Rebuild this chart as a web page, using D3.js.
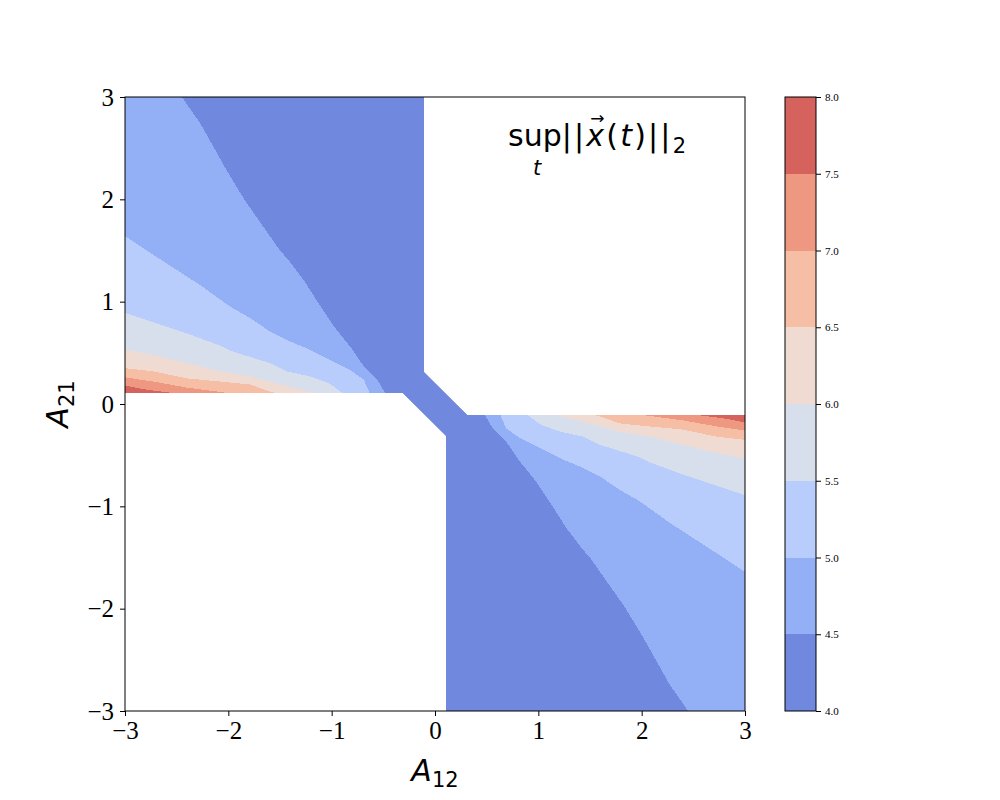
<!DOCTYPE html>
<html>
<head>
<meta charset="utf-8">
<script src="https://cdn.jsdelivr.net/npm/d3@7"></script>
<style>
    body { margin: 0; background: #fff; }
    svg { display: block; }
</style>
</head>
<body>
<div id="chart"></div>
<script>
const levels = [4.0, 4.5, 5.0, 5.5, 6.0, 6.5, 7.0, 7.5, 8.0];
const xTicks = [-3, -2, -1, 0, 1, 2, 3];
const yTicks = [-3, -2, -1, 0, 1, 2, 3];

// area where the quantity is defined (A12 * A21 < 0 plus the small link at the origin)
const validArea = [[-3, 3], [-0.103, 3], [-0.103, 0.31], [0.31, -0.103], [3, -0.103], [3, -3],
    [0.103, -3], [0.103, -0.31], [-0.31, 0.103], [-3, 0.103]];

// contour lines (A12 < 0, A21 > 0)
const ulLevel45 = [[-2.45, 3], [-2.27, 2.74], [-2.02, 2.29], [-1.84, 1.99], [-1.5, 1.5], [-1.42, 1.41],
    [-1.27, 1.21], [-1.15, 1.02], [-0.98, 0.76], [-0.82, 0.56], [-0.69, 0.37], [-0.56, 0.24], [-0.48, 0.103]];
const ulLevel50 = [[-3, 1.64], [-2.79, 1.5], [-2.27, 1.16], [-1.98, 0.95], [-1.79, 0.84], [-1.6, 0.71],
    [-1.4, 0.61], [-1.21, 0.53], [-1.02, 0.43], [-0.82, 0.33], [-0.69, 0.24], [-0.63, 0.103]];
const ulLevel55 = [[-3, 0.89], [-2.73, 0.8], [-2.4, 0.69], [-2.08, 0.57], [-1.98, 0.52], [-1.79, 0.46],
    [-1.6, 0.4], [-1.44, 0.32], [-1.21, 0.27], [-1.02, 0.2], [-0.89, 0.103]];
const ulLevel60 = [[-3, 0.53], [-2.73, 0.48], [-2.4, 0.4], [-2.08, 0.32], [-1.79, 0.27], [-1.6, 0.22],
    [-1.34, 0.15], [-1.15, 0.103]];
const ulLevel65 = [[-3, 0.35], [-2.73, 0.32], [-2.4, 0.25], [-1.98, 0.21], [-1.79, 0.19], [-1.65, 0.14],
    [-1.53, 0.103]];
const ulLevel70 = [[-3, 0.26], [-2.73, 0.22], [-2.4, 0.16], [-1.97, 0.103]];
const ulLevel75 = [[-3, 0.18], [-2.79, 0.14], [-2.5, 0.103]];

// contour lines (A12 > 0, A21 < 0)
const lrLevel45 = [[2.45, -3], [2.27, -2.74], [2.02, -2.29], [1.84, -1.99], [1.5, -1.5], [1.42, -1.41],
    [1.27, -1.21], [1.15, -1.02], [0.98, -0.76], [0.82, -0.56], [0.69, -0.37], [0.56, -0.24], [0.48, -0.103]];
const lrLevel50 = [[3, -1.64], [2.79, -1.5], [2.27, -1.16], [1.98, -0.95], [1.79, -0.84], [1.6, -0.71],
    [1.4, -0.61], [1.21, -0.53], [1.02, -0.43], [0.82, -0.33], [0.69, -0.24], [0.63, -0.103]];
const lrLevel55 = [[3, -0.89], [2.73, -0.8], [2.4, -0.69], [2.08, -0.57], [1.98, -0.52], [1.79, -0.46],
    [1.6, -0.4], [1.44, -0.32], [1.21, -0.27], [1.02, -0.2], [0.89, -0.103]];
const lrLevel60 = [[3, -0.53], [2.73, -0.48], [2.4, -0.4], [2.08, -0.32], [1.79, -0.27], [1.6, -0.22],
    [1.34, -0.15], [1.15, -0.103]];
const lrLevel65 = [[3, -0.35], [2.73, -0.32], [2.4, -0.25], [1.98, -0.21], [1.79, -0.19], [1.65, -0.14],
    [1.53, -0.103]];
const lrLevel70 = [[3, -0.26], [2.73, -0.22], [2.4, -0.16], [1.97, -0.103]];
const lrLevel75 = [[3, -0.18], [2.79, -0.14], [2.5, -0.103]];

const BAND_COLORS = ["#7088de", "#93aff6", "#b8cdfb", "#d8dfec", "#efdbd2", "#f5bea5", "#ee9881", "#d6625e"];
const TICK_FONT = "'Liberation Serif', 'Times New Roman', serif";
const MATH_FONT = "'DejaVu Sans', sans-serif";

const width = 1000, height = 800;
const plot = {left: 125, right: 745, top: 97, bottom: 711};
const cbar = {left: 785, right: 816};

const svg = d3.select("#chart").append("svg")
    .attr("width", width)
    .attr("height", height);

const x = d3.scaleLinear().domain([-3, 3]).range([plot.left, plot.right]);
const y = d3.scaleLinear().domain([-3, 3]).range([plot.bottom, plot.top]);

const line = d3.line().x(d => x(d[0])).y(d => y(d[1]));

// close a contour line through the lobe's outer corner, giving the region above that level
function bandPolygon(pts, corner) {
    return pts.concat([corner, [corner[0], pts[0][1]]]);
}

svg.append("clipPath")
    .attr("id", "valid")
    .append("path")
    .attr("d", line(validArea) + "Z");

const field = svg.append("g").attr("clip-path", "url(#valid)");

field.append("path")
    .attr("d", line(validArea) + "Z")
    .attr("fill", BAND_COLORS[0])
    .attr("shape-rendering", "crispEdges");

const ulContours = [ulLevel45, ulLevel50, ulLevel55, ulLevel60, ulLevel65, ulLevel70, ulLevel75];
const lrContours = [lrLevel45, lrLevel50, lrLevel55, lrLevel60, lrLevel65, lrLevel70, lrLevel75];
const ulCorner = [-3, 0.103];
const lrCorner = [3, -0.103];

const bands = ulContours.map((c, i) => ({pts: bandPolygon(c, ulCorner), color: BAND_COLORS[i + 1]}))
    .concat(lrContours.map((c, i) => ({pts: bandPolygon(c, lrCorner), color: BAND_COLORS[i + 1]})));

field.selectAll(".band")
    .data(bands)
    .enter()
    .append("path")
    .attr("class", "band")
    .attr("d", d => line(d.pts) + "Z")
    .attr("fill", d => d.color)
    .attr("shape-rendering", "crispEdges");

// ==================== Axes =====================
const xAxis = svg.append("g")
    .attr("transform", `translate(0,${plot.bottom})`)
    .call(d3.axisBottom(x).tickValues(xTicks).tickFormat(d3.format("d")).tickSize(5).tickPadding(5).tickSizeOuter(0));
const yAxis = svg.append("g")
    .attr("transform", `translate(${plot.left},0)`)
    .call(d3.axisLeft(y).tickValues(yTicks).tickFormat(d3.format("d")).tickSize(5).tickPadding(6).tickSizeOuter(0));

[xAxis, yAxis].forEach(a => {
    a.select(".domain").remove();
    a.selectAll(".tick line").attr("stroke", "#000").attr("stroke-width", 1);
    a.selectAll(".tick text")
        .attr("fill", "#000")
        .style("font-family", TICK_FONT)
        .style("font-size", "25px");
});

svg.append("rect")
    .attr("x", plot.left)
    .attr("y", plot.top)
    .attr("width", plot.right - plot.left)
    .attr("height", plot.bottom - plot.top)
    .attr("fill", "none")
    .attr("stroke", "#000")
    .attr("stroke-width", 1);

// axis labels
const xLabel = svg.append("text")
    .attr("x", (plot.left + plot.right) / 2)
    .attr("y", 781)
    .attr("text-anchor", "middle")
    .style("font-family", MATH_FONT)
    .style("font-size", "30px");
xLabel.append("tspan").style("font-style", "italic").text("A");
xLabel.append("tspan").attr("dy", 6).style("font-size", "21px").text("12");

const yLabel = svg.append("text")
    .attr("transform", `translate(68,${(plot.top + plot.bottom) / 2}) rotate(-90)`)
    .attr("text-anchor", "middle")
    .style("font-family", MATH_FONT)
    .style("font-size", "30px");
yLabel.append("tspan").style("font-style", "italic").text("A");
yLabel.append("tspan").attr("dy", 6).style("font-size", "21px").text("21");

// ==================== Title inside the plot =====================
const title = svg.append("text")
    .attr("x", 508)
    .attr("y", 146)
    .style("font-family", MATH_FONT)
    .style("font-size", "30px");
title.append("tspan").text("sup");
title.append("tspan").style("letter-spacing", "2.2px").text("||");
title.append("tspan").style("letter-spacing", "2.2px").style("font-style", "italic").text("x");
title.append("tspan").style("letter-spacing", "2.2px").text("(");
title.append("tspan").style("letter-spacing", "2.2px").style("font-style", "italic").text("t");
title.append("tspan").style("letter-spacing", "2.2px").text(")||");
title.append("tspan").attr("dy", 7).style("font-size", "21px").text("2");

// vector arrow over the x, kept inside the same text element
const xChar = title.node().getExtentOfChar(5);
title.append("tspan")
    .attr("x", xChar.x + xChar.width / 2 - 6)
    .attr("y", 124)
    .style("font-size", "17px")
    .text("\u2192");

svg.append("text")
    .attr("x", 537)
    .attr("y", 175)
    .attr("text-anchor", "middle")
    .style("font-family", MATH_FONT)
    .style("font-size", "21px")
    .style("font-style", "italic")
    .text("t");

// ==================== Colorbar =====================
const c = d3.scaleLinear().domain([levels[0], levels[levels.length - 1]]).range([plot.bottom, plot.top]);

svg.selectAll(".cbar-band")
    .data(d3.pairs(levels))
    .enter()
    .append("rect")
    .attr("class", "cbar-band")
    .attr("x", cbar.left)
    .attr("y", d => c(d[1]))
    .attr("width", cbar.right - cbar.left)
    .attr("height", d => c(d[0]) - c(d[1]))
    .attr("fill", (d, i) => BAND_COLORS[i])
    .attr("shape-rendering", "crispEdges");

svg.append("rect")
    .attr("x", cbar.left)
    .attr("y", plot.top)
    .attr("width", cbar.right - cbar.left)
    .attr("height", plot.bottom - plot.top)
    .attr("fill", "none")
    .attr("stroke", "#000")
    .attr("stroke-width", 1);

const cAxis = svg.append("g")
    .attr("transform", `translate(${cbar.right},0)`)
    .call(d3.axisRight(c).tickValues(levels).tickFormat(d3.format(".1f")).tickSize(5).tickPadding(4).tickSizeOuter(0));
cAxis.select(".domain").remove();
cAxis.selectAll(".tick line").attr("stroke", "#000");
cAxis.selectAll(".tick text")
    .attr("fill", "#000")
    .style("font-family", TICK_FONT)
    .style("font-size", "11px");
</script>
</body>
</html>
